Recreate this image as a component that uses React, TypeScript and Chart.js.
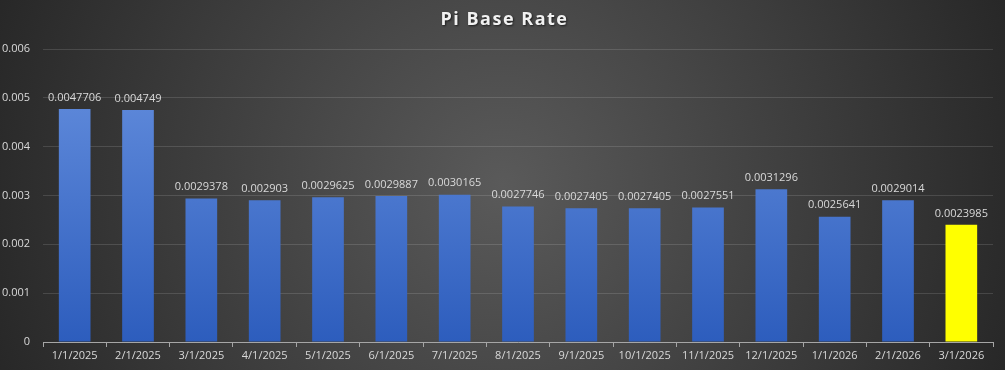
import React, { useEffect, useRef } from "react";
import { Chart, registerables } from "chart.js";

Chart.register(...registerables);

const categories = [
  "1/1/2025", "2/1/2025", "3/1/2025", "4/1/2025", "5/1/2025",
  "6/1/2025", "7/1/2025", "8/1/2025", "9/1/2025", "10/1/2025",
  "11/1/2025", "12/1/2025", "1/1/2026", "2/1/2026", "3/1/2026",
];
const baseRate = [
  0.0047706, 0.004749, 0.0029378, 0.002903, 0.0029625,
  0.0029887, 0.0030165, 0.0027746, 0.0027405, 0.0027405,
  0.0027551, 0.0031296, 0.0025641, 0.0029014, 0.0023985,
];
const valueLabels = [
  "0.0047706", "0.004749", "0.0029378", "0.002903", "0.0029625",
  "0.0029887", "0.0030165", "0.0027746", "0.0027405", "0.0027405",
  "0.0027551", "0.0031296", "0.0025641", "0.0029014", "0.0023985",
];
const yTicks = [0, 0.001, 0.002, 0.003, 0.004, 0.005, 0.006];
const yTickLabels = ["0", "0.001", "0.002", "0.003", "0.004", "0.005", "0.006"];
const titleText = "Pi Base Rate";

const FONT = "'Open Sans', 'Liberation Sans', sans-serif";

const bgPlugin = {
  id: "bg",
  beforeDraw(chart: any) {
    const { ctx, width, height } = chart;
    ctx.save();
    const g = ctx.createRadialGradient(width / 2, height / 2, 0, width / 2, height / 2, width * 0.55);
    g.addColorStop(0, "#5a5a5a");
    g.addColorStop(1, "#262626");
    ctx.fillStyle = g;
    ctx.fillRect(0, 0, width, height);
    ctx.restore();
  },
};

const titlePlugin = {
  id: "customTitle",
  afterDraw(chart: any) {
    const { ctx, width } = chart;
    ctx.save();
    ctx.font = `bold 18px ${FONT}`;
    (ctx as any).letterSpacing = "1.5px";
    ctx.textAlign = "center";
    ctx.textBaseline = "middle";
    ctx.shadowColor = "rgba(0,0,0,0.6)";
    ctx.shadowOffsetX = 1;
    ctx.shadowOffsetY = 1;
    ctx.shadowBlur = 2;
    ctx.fillStyle = "#f2f2f2";
    ctx.fillText(titleText, width / 2 + 2, 20);
    ctx.restore();
  },
};

const labelPlugin = {
  id: "valueLabels",
  afterDatasetsDraw(chart: any) {
    const { ctx } = chart;
    const meta = chart.getDatasetMeta(0);
    ctx.save();
    ctx.font = `11px ${FONT}`;
    ctx.fillStyle = "#d9d9d9";
    ctx.textAlign = "center";
    ctx.textBaseline = "bottom";
    meta.data.forEach((bar: any, i: number) => {
      ctx.fillText(valueLabels[i], bar.x, bar.y - 6);
    });
    ctx.restore();
  },
};

export default function App() {
  const ref = useRef<HTMLCanvasElement>(null);
  useEffect(() => {
    document.body.style.margin = "0";
    const canvas = ref.current!;
    const ctx = canvas.getContext("2d")!;
    const barFill = (c: any) => {
      const chart = c.chart;
      const area = chart.chartArea;
      if (!area) return "#4472c4";
      if (c.dataIndex === categories.length - 1) return "#ffff00";
      const g = chart.ctx.createLinearGradient(0, area.top + 60, 0, area.bottom);
      g.addColorStop(0, "#5b86d8");
      g.addColorStop(1, "#2d5dbd");
      return g;
    };
    const chart = new Chart(ctx, {
      type: "bar",
      data: {
        labels: categories,
        datasets: [
          {
            data: baseRate,
            backgroundColor: barFill as any,
            borderWidth: 0,
            barPercentage: 0.5,
            categoryPercentage: 1,
          },
        ],
      },
      plugins: [bgPlugin, titlePlugin, labelPlugin],
      options: {
        animation: false,
        responsive: false,
        maintainAspectRatio: false,
        layout: { padding: { top: 49, right: 12, left: 0, bottom: 0 } },
        plugins: {
          legend: { display: false },
          title: { display: false },
          tooltip: { enabled: false },
        },
        scales: {
          x: {
            offset: true,
            grid: {
              offset: true,
              drawOnChartArea: false,
              drawTicks: true,
              tickLength: 5,
              color: "#a6a6a6",
            },
            border: { color: "#a6a6a6", width: 1 },
            ticks: {
              color: "#d9d9d9",
              font: { family: FONT, size: 11 },
              maxRotation: 0,
              autoSkip: false,
              padding: 2,
            },
            afterFit(scale: any) {
              scale.height = 28;
            },
          },
          y: {
            min: 0,
            max: 0.006,
            afterBuildTicks(scale: any) {
              scale.ticks = yTicks.map((v) => ({ value: v }));
            },
            grid: { color: "rgba(255,255,255,0.13)", drawTicks: false },
            border: { display: false },
            ticks: {
              color: "#d9d9d9",
              font: { family: FONT, size: 11 },
              padding: 13,
              callback: (_v: any, i: number) => yTickLabels[i],
            },
            afterFit(scale: any) {
              scale.width = 43;
            },
          },
        },
      },
    });
    return () => chart.destroy();
  }, []);
  return (
    <div style={{ position: "absolute", left: 0, top: 0, width: 1005, height: 370 }}>
      <canvas ref={ref} width={1005} height={370} style={{ display: "block" }} />
    </div>
  );
}
